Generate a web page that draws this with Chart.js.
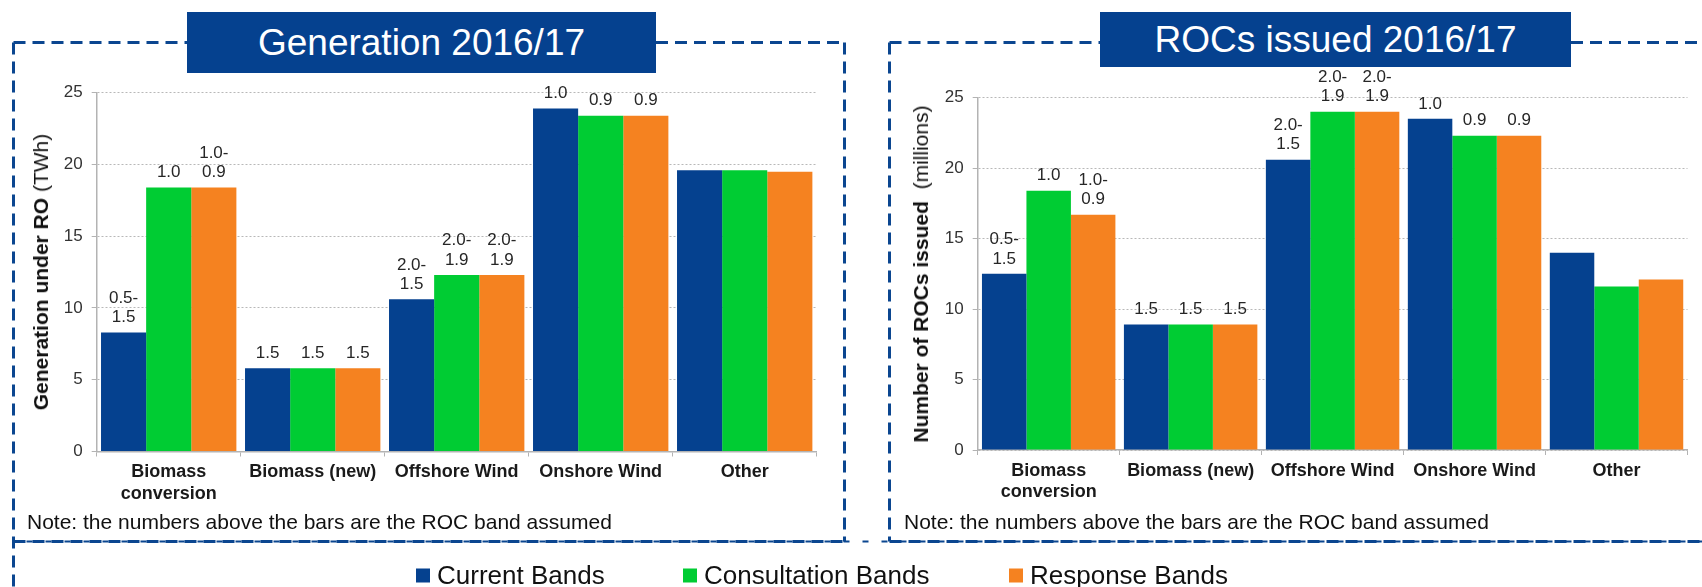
<!DOCTYPE html>
<html>
<head>
<meta charset="utf-8">
<script src="https://cdn.jsdelivr.net/npm/chart.js@4.4.1/dist/chart.umd.min.js"></script>
<style>
  body { margin: 0; background: #fff; font-family: "Liberation Sans", Arial, sans-serif; }
  #page { position: relative; width: 1702px; height: 587px; overflow: hidden; }
  .cv { position: absolute; }
  .banner { position: absolute; background: #05418f; color: #fff; font-size: 37px;
            display: flex; align-items: center; justify-content: center; white-space: nowrap; }
  .ytitle { position: absolute; transform: translate(-50%, -50%) rotate(-90deg);
            white-space: nowrap; font-size: 21px; color: #111; }
  .ytitle b { font-weight: bold; }
  .note { position: absolute; font-size: 21px; color: #111; white-space: nowrap; transform: translateY(-50%); }
  .leg { position: absolute; font-size: 26px; color: #111; white-space: nowrap; top: 575px; transform: translateY(-50%);
         display: flex; align-items: center; }
  .leg i { display: inline-block; width: 14px; height: 14px; margin-right: 7px; }
  svg { position: absolute; left: 0; top: 0; }
</style>
</head>
<body>
<div id="page">
  <canvas id="genChart" class="cv" style="left:0px;top:60px;width:845px;height:450px" width="845" height="450"></canvas>
  <canvas id="rocChart" class="cv" style="left:850px;top:60px;width:852px;height:450px" width="852" height="450"></canvas>

  <svg width="1702" height="587">
    <g stroke="#0b4690" stroke-width="3" fill="none" stroke-dasharray="12 7">
      <!-- generation box -->
      <line x1="13.5" y1="42.5" x2="13.5" y2="587"/>
      <line x1="13.5" y1="42.5" x2="187" y2="42.5"/>
      <line x1="656" y1="42.5" x2="844.5" y2="42.5"/>
      <line x1="844.5" y1="42.5" x2="844.5" y2="541.5"/>
      <line x1="13.5" y1="541.5" x2="844.5" y2="541.5"/>
      <!-- ROCs box -->
      <line x1="889.5" y1="42.5" x2="889.5" y2="541.5"/>
      <line x1="889.5" y1="42.5" x2="1100" y2="42.5"/>
      <line x1="1571" y1="42.5" x2="1702" y2="42.5"/>
      <line x1="889.5" y1="541.5" x2="1702" y2="541.5"/>
    </g>
    <!-- legend box top -->
    <line x1="13.5" y1="541.5" x2="1702" y2="541.5" stroke="#0b4690" stroke-width="2" stroke-dasharray="6 13" stroke-dashoffset="-13"/>
  </svg>

  <div class="banner" style="left:187px;top:12px;width:469px;height:61px">Generation 2016/17</div>
  <div class="banner" style="left:1100px;top:12px;width:471px;height:55px">ROCs issued 2016/17</div>

  <div class="ytitle" style="left:41px;top:272px"><b>Generation under RO</b> (TWh)</div>
  <div class="ytitle" style="left:921px;top:274px"><b>Number of ROCs issued</b>&nbsp; (millions)</div>

  <div class="note" style="left:27px;top:522px">Note: the numbers above the bars are the ROC band assumed</div>
  <div class="note" style="left:904px;top:522px">Note: the numbers above the bars are the ROC band assumed</div>

  <div class="leg" style="left:416px"><i style="background:#05418f"></i>Current Bands</div>
  <div class="leg" style="left:683px"><i style="background:#00cc33"></i>Consultation Bands</div>
  <div class="leg" style="left:1009px"><i style="background:#f58220"></i>Response Bands</div>
</div>

<script>
  const categories = [['Biomass', 'conversion'], 'Biomass (new)', 'Offshore Wind', 'Onshore Wind', 'Other'];
  const seriesNames = ['Current Bands', 'Consultation Bands', 'Response Bands'];
  const seriesColors = ['#05418f', '#00cc33', '#f58220'];

  // Generation under RO (TWh)
  const genCurrent = [8.3, 5.8, 10.6, 23.9, 19.6];
  const genConsultation = [18.4, 5.8, 12.3, 23.4, 19.6];
  const genResponse = [18.4, 5.8, 12.3, 23.4, 19.5];

  // Number of ROCs issued (millions)
  const rocCurrent = [12.5, 8.9, 20.6, 23.5, 14.0];
  const rocConsultation = [18.4, 8.9, 24.0, 22.3, 11.6];
  const rocResponse = [16.7, 8.9, 24.0, 22.3, 12.1];

  // ROC band assumed, shown above the bars
  const bandCurrent = [['0.5-', '1.5'], ['1.5'], ['2.0-', '1.5'], ['1.0'], null];
  const bandConsultation = [['1.0'], ['1.5'], ['2.0-', '1.9'], ['0.9'], null];
  const bandResponse = [['1.0-', '0.9'], ['1.5'], ['2.0-', '1.9'], ['0.9'], null];

  const yMin = 0, yMax = 25, yStep = 5;

  const FONT = '"Liberation Sans", Arial, sans-serif';

  const bandLabels = {
    id: 'bandLabels',
    afterDatasetsDraw(chart) {
      const ctx = chart.ctx;
      ctx.save();
      ctx.font = '17px ' + FONT;
      ctx.fillStyle = '#262626';
      ctx.textAlign = 'center';
      ctx.textBaseline = 'middle';
      chart.data.datasets.forEach((ds, di) => {
        const meta = chart.getDatasetMeta(di);
        meta.data.forEach((bar, i) => {
          const lines = ds.bands[i];
          if (!lines) return;
          lines.forEach((t, k) => {
            ctx.fillText(t, bar.x, bar.y - 15 - (lines.length - 1 - k) * 19.5);
          });
        });
      });
      ctx.restore();
    }
  };

  function makeChart(id, values, pad, yWidth, xHeight) {
    const bands = [bandCurrent, bandConsultation, bandResponse];
    return new Chart(document.getElementById(id), {
      type: 'bar',
      data: {
        labels: categories,
        datasets: values.map((v, i) => ({
          label: seriesNames[i],
          data: v,
          bands: bands[i],
          backgroundColor: seriesColors[i],
          borderWidth: 0,
          categoryPercentage: 0.94,
          barPercentage: 1.0
        }))
      },
      options: {
        responsive: false,
        animation: false,
        layout: { padding: pad },
        plugins: {
          legend: { display: false },
          tooltip: { enabled: false }
        },
        scales: {
          x: {
            grid: {
              offset: true,
              drawOnChartArea: false,
              drawTicks: true,
              tickLength: 5,
              tickColor: '#b3b3b3'
            },
            border: { color: '#b3b3b3', width: 1.5 },
            ticks: {
              color: '#1a1a1a',
              padding: 5,
              font: { family: FONT, size: 18, weight: 'bold' }
            },
            afterFit(scale) { scale.height = xHeight; }
          },
          y: {
            min: yMin,
            max: yMax,
            ticks: {
              stepSize: yStep,
              color: '#333',
              padding: 9,
              font: { family: FONT, size: 17 }
            },
            grid: {
              color: '#b8b8b8',
              lineWidth: 1,
              tickLength: 5,
              tickColor: '#b3b3b3'
            },
            border: { color: '#b3b3b3', width: 1.5, dash: [2, 2] },
            afterFit(scale) { scale.width = yWidth; }
          }
        }
      },
      plugins: [bandLabels]
    });
  }

  makeChart('genChart', [genCurrent, genConsultation, genResponse],
    { top: 32.7, right: 28.3, bottom: 0, left: 0 }, 96.7, 58.5);
  makeChart('rocChart', [rocCurrent, rocConsultation, rocResponse],
    { top: 37.7, right: 14.5, bottom: 0, left: 0 }, 127.7, 60);
</script>
</body>
</html>
